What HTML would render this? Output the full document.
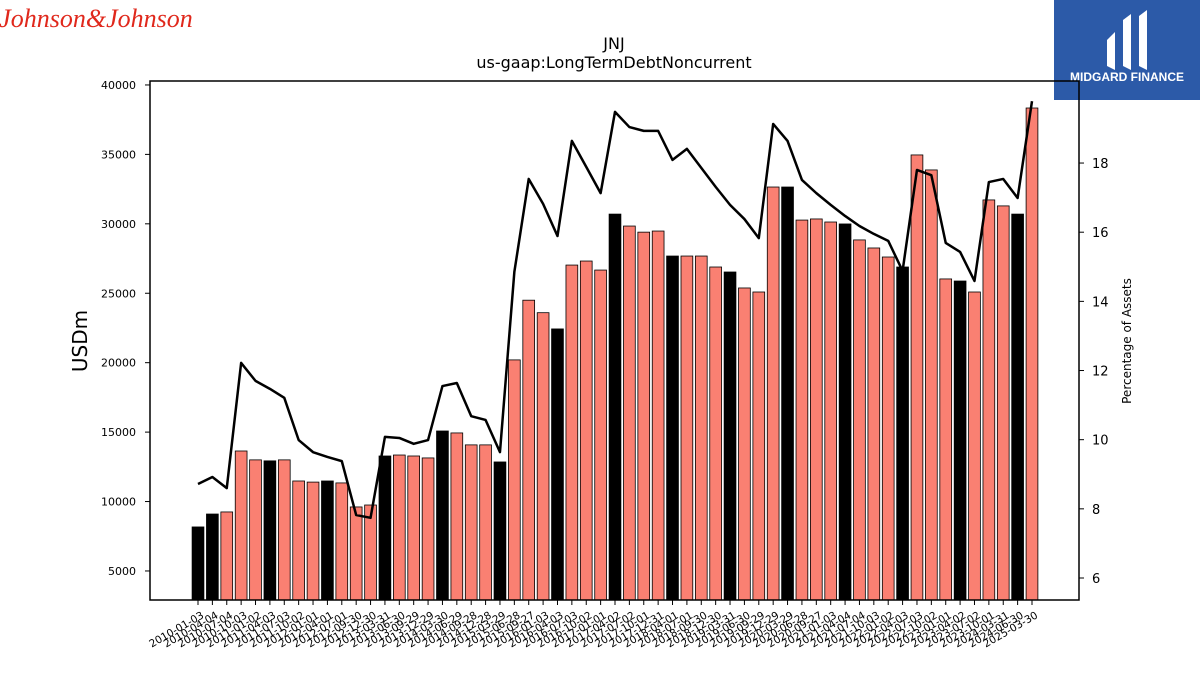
<!DOCTYPE html>
<html><head><meta charset="utf-8"><style>
body{margin:0;background:#fff;width:1200px;height:675px;overflow:hidden;font-family:"Liberation Sans","DejaVu Sans",sans-serif}
svg text{font-family:"DejaVu Sans","Liberation Sans",sans-serif}
</style></head><body>
<svg id="chart" width="1200" height="675" viewBox="0 0 1200 675" xmlns="http://www.w3.org/2000/svg">
<text x="96" y="27" font-family="Liberation Serif, serif" font-style="italic" font-size="26" fill="#e0281c" text-anchor="middle" style="font-family:'Liberation Serif',serif">Johnson&amp;Johnson</text>
<g>
<rect x="1054" y="0" width="146" height="100" fill="#2c5aa8"/>
<path d="M1107 40 L1115 32 L1115 70 L1107 66 Z M1123 20 L1131 14 L1131 70 L1123 66 Z M1139 16 L1147 10 L1147 70 L1139 66 Z" fill="#fff"/>
<text x="1127" y="81" font-size="12" font-weight="bold" fill="#fff" text-anchor="middle" style="font-family:'Liberation Sans',sans-serif">MIDGARD FINANCE</text>
</g>
<text x="614" y="49" font-size="16" text-anchor="middle">JNJ</text>
<text x="614" y="68" font-size="16" text-anchor="middle">us-gaap:LongTermDebtNoncurrent</text>
<g id="plot"></g>
<rect x="150" y="81" width="929" height="519" fill="none" stroke="#000" stroke-width="1.5"/>
<text transform="translate(87,341) rotate(-90)" font-size="20" text-anchor="middle">USDm</text>
<text transform="translate(1131,341) rotate(-90)" font-size="12" text-anchor="middle">Percentage of Assets</text>
</svg>
<script>
const dates=["2010-01-03","2010-04-04","2010-07-04","2010-10-03","2011-01-02","2011-04-03","2011-07-03","2011-10-02","2012-01-01","2012-04-01","2012-07-01","2012-09-30","2012-12-30","2013-03-31","2013-06-30","2013-09-29","2013-12-29","2014-03-30","2014-06-29","2014-09-28","2014-12-28","2015-03-29","2015-06-28","2015-09-27","2016-01-03","2016-04-03","2016-07-03","2016-10-02","2017-01-01","2017-04-02","2017-07-02","2017-10-01","2017-12-31","2018-04-01","2018-07-01","2018-09-30","2018-12-30","2019-03-31","2019-06-30","2019-09-29","2019-12-29","2020-03-29","2020-06-28","2020-09-27","2021-01-03","2021-04-04","2021-07-04","2021-10-03","2022-01-02","2022-04-03","2022-07-03","2022-10-02","2023-01-01","2023-04-02","2023-07-02","2023-10-01","2024-03-31","2024-06-30","2025-03-30"];
const debt=[8170,9100,9250,13640,13000,12930,13000,11480,11400,11480,11340,9610,9750,13280,13350,13280,13140,15080,14940,14080,14080,12850,20200,24500,23600,22430,27030,27320,26670,30700,29840,29400,29480,27680,27680,27680,26890,26530,25380,25090,32650,32650,30270,30350,30130,29990,28840,28260,27610,26890,34960,33880,26030,25880,25090,31720,31290,30700,38340];
const pctAssets=[8.72,8.92,8.60,12.22,11.70,11.47,11.21,9.99,9.64,9.50,9.38,7.82,7.74,10.08,10.05,9.88,9.99,11.55,11.64,10.68,10.57,9.64,14.85,17.54,16.82,15.89,18.64,17.89,17.13,19.48,19.04,18.93,18.93,18.09,18.41,17.86,17.31,16.79,16.38,15.83,19.13,18.64,17.51,17.13,16.79,16.47,16.18,15.95,15.75,14.88,17.80,17.65,15.69,15.43,14.59,17.45,17.54,16.99,19.79];
const leftTicks=[5000,10000,15000,20000,25000,30000,35000,40000];
const rightTicks=[6,8,10,12,14,16,18];
const NS="http://www.w3.org/2000/svg";
const g=document.getElementById('plot');
const yL=v=>640.4-v/5000*69.43;
const yR=v=>578-(v-6)*34.58;
const xB=i=>198+i*(1032-198)/(dates.length-1);
const step=(1032-198)/(dates.length-1);
function mk(tag,a){const e=document.createElementNS(NS,tag);for(const k in a)e.setAttribute(k,a[k]);g.appendChild(e);return e;}
debt.forEach((v,i)=>{
  const black=(i===0||i%4===1);
  const r=mk('rect',{x:xB(i)-step*0.41,y:yL(v),width:step*0.82,height:600-yL(v),fill:black?'#000':'#fa8072',stroke:'#000','stroke-width':0.8});
  
  
});
dates.forEach((d,i)=>{
  const t=mk('line',{x1:xB(i),x2:xB(i),y1:600,y2:605,stroke:'#000'});
  
  
  const l=mk('text',{transform:`translate(${xB(i)+3},${611}) rotate(-30)`,'font-size':10.5,'text-anchor':'end','dominant-baseline':'hanging'});
  l.textContent=d;
  
  
});
leftTicks.forEach(v=>{
  const t=mk('line',{x1:145,x2:150,y1:yL(v),y2:yL(v),stroke:'#000'});
  
  
  const l=mk('text',{x:136,y:yL(v)+4,'font-size':11,'text-anchor':'end'});
  l.textContent=v;
  
  
});
rightTicks.forEach(v=>{
  const t=mk('line',{x1:1079,x2:1084,y1:yR(v),y2:yR(v),stroke:'#000'});
  
  
  const l=mk('text',{x:1092,y:yR(v)+5,'font-size':13});
  l.textContent=v;
  
  
});
const p=mk('polyline',{points:pctAssets.map((v,i)=>xB(i)+','+yR(v)).join(' '),fill:'none',stroke:'#000','stroke-width':2.5,'stroke-linejoin':'round'});


</script>
</body></html>
